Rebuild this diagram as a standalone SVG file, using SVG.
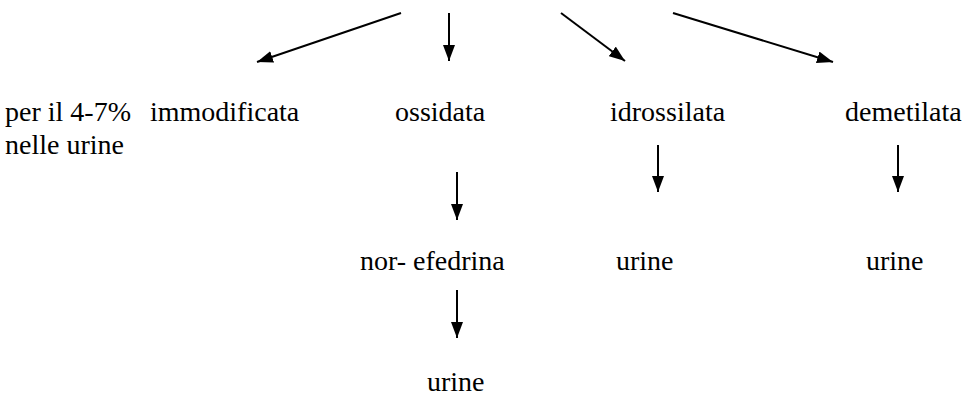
<svg xmlns="http://www.w3.org/2000/svg" width="973" height="398" viewBox="0 0 973 398">
<style>
text{font-family:"Times New Roman",Tinos,"Liberation Serif",serif;font-size:28px;fill:#000}
.c line{stroke:#000;stroke-width:2}
</style>
<defs>
<marker id="ah" viewBox="0 0 16 12" refX="16" refY="6" markerWidth="16" markerHeight="12" markerUnits="userSpaceOnUse" orient="auto"><path d="M0,0 L16,6 L0,12 z" fill="#000"/></marker>
</defs>
<rect width="973" height="398" fill="#fff"/>
<g class="c" id="connectors">
<line x1="401" y1="13" x2="257" y2="62" marker-end="url(#ah)"/>
<line x1="449" y1="13" x2="449" y2="61" marker-end="url(#ah)"/>
<line x1="561" y1="13" x2="625" y2="61" marker-end="url(#ah)"/>
<line x1="673" y1="13" x2="833" y2="62" marker-end="url(#ah)"/>
<line x1="457" y1="172" x2="457" y2="220" marker-end="url(#ah)"/>
<line x1="658" y1="145" x2="658" y2="192" marker-end="url(#ah)"/>
<line x1="898" y1="145" x2="898" y2="192" marker-end="url(#ah)"/>
<line x1="457" y1="290" x2="457" y2="338" marker-end="url(#ah)"/>
</g>
<g id="n-immodificata"><text x="5" y="121">per il 4-7%</text><text x="150" y="121">immodificata</text><text x="5" y="154">nelle urine</text></g>
<g id="n-ossidata"><text x="395" y="121">ossidata</text></g>
<g id="n-idrossilata"><text x="610" y="121">idrossilata</text></g>
<g id="n-demetilata"><text x="845" y="121">demetilata</text></g>
<g id="n-norefedrina"><text x="360" y="270">nor- efedrina</text></g>
<g id="n-urine1"><text x="616" y="270">urine</text></g>
<g id="n-urine2"><text x="866" y="270">urine</text></g>
<g id="n-urine3"><text x="427" y="391">urine</text></g>
</svg>
